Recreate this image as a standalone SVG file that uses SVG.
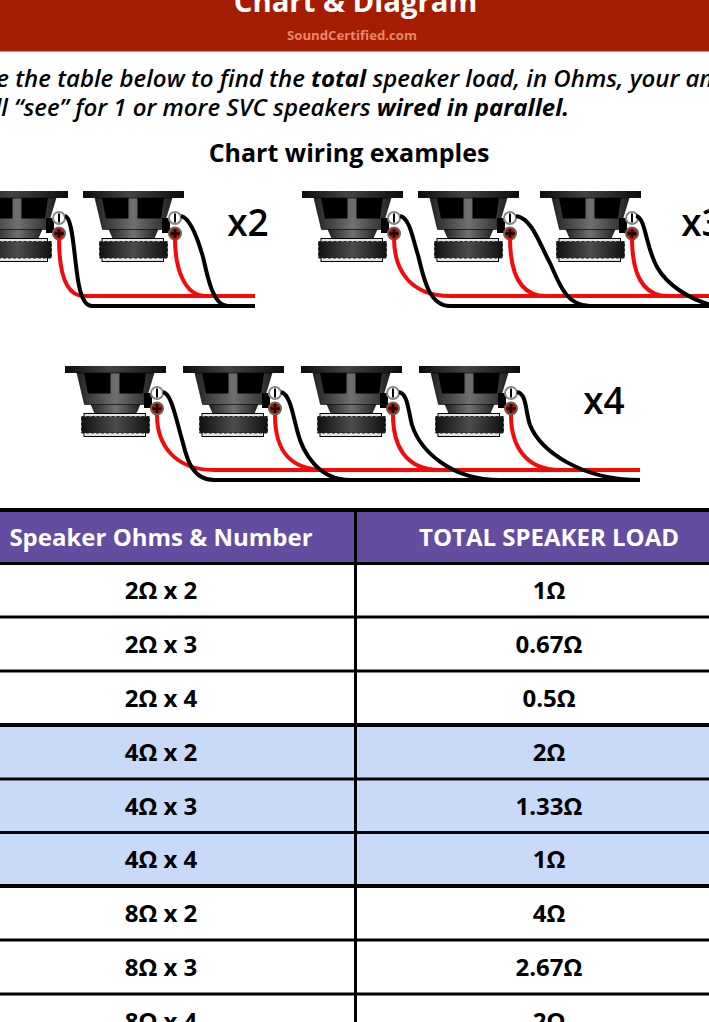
<svg xmlns="http://www.w3.org/2000/svg" width="709" height="1022" viewBox="0 0 709 1022">
<style>
text{font-family:"Open Sans","Noto Sans","DejaVu Sans",sans-serif;fill:#000}
.b{font-weight:700}
.i{font-style:italic;font-size:24px;font-weight:600}
.c{text-anchor:middle;font-weight:700;font-size:24px}
.x{font-size:37px;font-weight:600;text-anchor:middle}
.r{fill:none;stroke:#f40a0a;stroke-width:4}
.k{fill:none;stroke:#000;stroke-width:4}
.g{fill:none;stroke:#000;stroke-width:3}
.t{fill:none;stroke:#000;stroke-width:4}
</style>
<defs>
<linearGradient id="hg"><stop offset="0" stop-color="#0c0c0c"/><stop offset=".45" stop-color="#444"/><stop offset="1" stop-color="#0c0c0c"/></linearGradient>
<linearGradient id="bk"><stop offset="0" stop-color="#222"/><stop offset=".5" stop-color="#707070"/><stop offset="1" stop-color="#222"/></linearGradient>
<linearGradient id="mg"><stop offset="0" stop-color="#111"/><stop offset=".5" stop-color="#4c4c4c"/><stop offset="1" stop-color="#111"/></linearGradient>
<g id="spk">
<rect x="0" y="0" width="101" height="7" fill="url(#hg)"/>
<path d="M12 7H89L79.500 38.500H19.500Z" fill="url(#bk)" stroke="#000" stroke-width=".6"/>
<path d="M19 7H45.500V27.500H23ZM54.500 7H81L78 27.500H54.500Z" fill="#000"/>
<path d="M26 38.500H75L71 47.500H30Z" fill="url(#bk)" stroke="#000" stroke-width=".6"/>
<path d="M79 27H87V42H79Z" fill="#000"/>
<rect x="19" y="47.500" width="61.500" height="23" fill="#e4e4e4" stroke="#000"/>
<rect x="16.500" y="50.500" width="68" height="16.500" fill="url(#mg)" stroke="#222" stroke-dasharray="3 2"/>
<circle cx="92" cy="27" r="6" fill="#fff" stroke="#888" stroke-width="2"/>
<rect x="91" y="22.500" width="2" height="9" fill="#000"/>
<circle cx="92" cy="42.500" r="6" fill="#c00" stroke="#665" stroke-width="2"/>
<path d="M87.500 41.300h3.300v-3.300h2.400v3.300h3.300v2.400h-3.300v3.300h-2.400v-3.300h-3.300Z" fill="#000"/>
</g>
</defs>
<rect width="709" height="1022" fill="#fff"/>
<g id="header">
<rect width="709" height="51" fill="#a61c00"/>
<rect y="51" width="709" height="1" fill="#e6896b"/>
<text x="355.500" y="12" class="b" font-size="29.300" text-anchor="middle" style="fill:#fff">Chart &amp; Diagram</text>
<text x="352" y="40" class="b" font-size="13.200" text-anchor="middle" style="fill:#e6896b">SoundCertified.com</text>
</g>
<g id="intro">
<text x="-31" y="87" class="i">Use the table below to find the <tspan style="font-weight:700">total</tspan> speaker load, in Ohms, your amp</text>
<text x="-30" y="116" class="i">will “see” for 1 or more SVC speakers <tspan style="font-weight:700">wired in parallel.</tspan></text>
<text x="349" y="162" class="b" font-size="25" text-anchor="middle">Chart wiring examples</text>
</g>
<g id="speakers">
<use id="s1" href="#spk" x="-33" y="191"/><use id="s2" href="#spk" x="83" y="191"/>
<use id="s3" href="#spk" x="302" y="191"/><use id="s4" href="#spk" x="418" y="191"/><use id="s5" href="#spk" x="540" y="191"/>
<use id="s6" href="#spk" x="65" y="366"/><use id="s7" href="#spk" x="183" y="366"/><use id="s8" href="#spk" x="301" y="366"/><use id="s9" href="#spk" x="419" y="366"/>
</g>
<g id="connectors">
<path class="r" d="M59 238C59 262 62 296 84 296H255"/>
<path class="r" d="M175 238C175 268 184 296 206 296H255"/>
<path class="k" d="M65 216C71 217 73 240 75 257C77 273 79 306 92 306H255"/>
<path class="k" d="M181 216C190 218 197 236 203 257C207 273 212 306 228 306H255"/>
<path class="r" d="M394 238C394 272 412 296 450 296H709"/>
<path class="r" d="M510 238C510 270 518 296 546 296H709"/>
<path class="r" d="M632 238C632 270 640 296 668 296H709"/>
<path class="k" d="M400 216C410 218 413 240 418 255C423 275 428 306 450 306H709"/>
<path class="k" d="M516 216C532 218 540 245 550 263C558 280 565 306 590 306H709"/>
<path class="k" d="M636 216C646 218 645 245 657 267C667 285 690 300 715 306"/>
<path class="r" d="M157 415C157 445 175 470 214 470H640"/>
<path class="r" d="M275 415C275 445 285 470 325 470H640"/>
<path class="r" d="M393 415C393 445 405 470 440 470H640"/>
<path class="r" d="M511 415C511 445 525 470 560 470H640"/>
<path class="k" d="M163 392C172 394 176 420 183 443C187 460 193 480 214 480H640"/>
<path class="k" d="M281 392C290 394 293 415 297 430C303 455 320 480 350 480H640"/>
<path class="k" d="M399 392C408 394 408 410 412 425C420 450 450 480 500 480H640"/>
<path class="k" d="M517 392C527 394 525 410 530 425C540 450 580 480 640 480"/>
<text class="x" x="248" y="236">x2</text>
<text class="x" x="702" y="236">x3</text>
<text class="x" x="604" y="414">x4</text>
</g>
<g id="table">
<rect y="510" width="709" height="53" fill="#644ca0"/>
<rect y="725" width="709" height="161" fill="#c9daf8"/>
<path class="g" d="M0 563.500H709M0 617H709M0 671H709M0 779H709M0 832.500H709M0 940H709M0 994H709M355.500 510V1022"/>
<path class="t" d="M0 510H709M0 725H709M0 886H709"/>
<text x="161" y="545.500" class="c" style="fill:#fff">Speaker Ohms &amp; Number</text>
<text x="549" y="545.500" class="c" style="fill:#fff">TOTAL SPEAKER LOAD</text>
<text class="c" x="161" y="598.500">2Ω x 2</text><text class="c" x="549" y="598.500">1Ω</text>
<text class="c" x="161" y="652.500">2Ω x 3</text><text class="c" x="549" y="652.500">0.67Ω</text>
<text class="c" x="161" y="706.500">2Ω x 4</text><text class="c" x="549" y="706.500">0.5Ω</text>
<text class="c" x="161" y="760.500">4Ω x 2</text><text class="c" x="549" y="760.500">2Ω</text>
<text class="c" x="161" y="814.500">4Ω x 3</text><text class="c" x="549" y="814.500">1.33Ω</text>
<text class="c" x="161" y="867.500">4Ω x 4</text><text class="c" x="549" y="867.500">1Ω</text>
<text class="c" x="161" y="921.500">8Ω x 2</text><text class="c" x="549" y="921.500">4Ω</text>
<text class="c" x="161" y="975.500">8Ω x 3</text><text class="c" x="549" y="975.500">2.67Ω</text>
<text class="c" x="161" y="1029.500">8Ω x 4</text><text class="c" x="549" y="1029.500">2Ω</text>
</g>
</svg>
